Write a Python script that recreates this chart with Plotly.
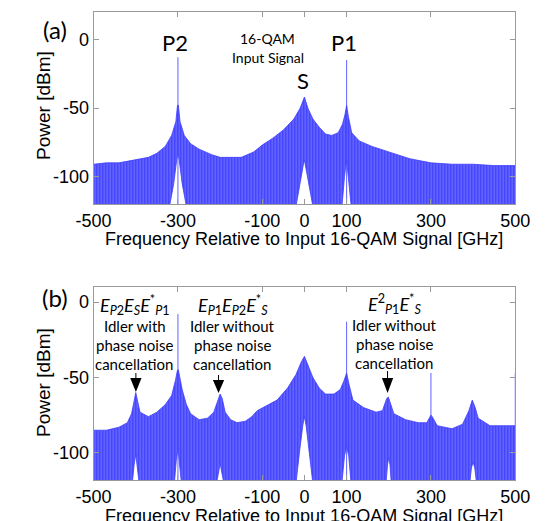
import plotly.graph_objects as go

# page offset: the browser body has an 8 px margin
OFF = 8
W, H = 550 - OFF, 521 - OFF

# ---------------- data ----------------
# Panel (a): upper envelope of the spectrum comb
fa_up = [-500, -470, -440, -400, -370, -350, -330, -315, -305, -301, -299, -295, -285, -270, -250,
         -220, -200, -180, -150, -120, -100, -75, -50, -25, -10, 0, 8, 20, 35, 50, 65, 80, 90, 96,
         100, 104, 112, 130, 160, 200, 250, 300, 350, 400, 450, 500]
pa_up = [-91, -90, -90, -88, -86, -83, -78, -70, -60, -48, -48, -60, -70, -76, -80,
         -84, -86, -86, -86, -82, -77, -72, -66, -58, -50, -42, -50, -58, -64, -69, -70, -68, -62, -55,
         -48, -56, -68, -74, -78, -82, -87, -90, -91, -91, -92, -92]
# Panel (a): lower envelope (white gaps under the carriers)
fa_lo = [-500, -322, -310, -303, -300, -297, -290, -278, -22, -10, -3, 0, 3, 10, 22,
         88, 95, 100, 105, 112, 500]
pa_lo = [-125, -125, -105, -88, -83, -88, -105, -125, -125, -105, -92, -88, -92, -105, -125,
         -125, -100, -88, -100, -125, -125]
# Panel (a): narrow carrier lines
fa_spk = [-300, 100]
pa_spk = [-13, -15]

# Panel (b): upper envelope
fb_up = [-500, -470, -440, -420, -410, -403, -400, -397, -390, -370, -350, -330, -315, -306, -301,
         -299, -294, -290, -280, -270, -250, -230, -215, -205, -200, -195, -188, -175, -160, -140,
         -125, -112, -100, -85, -65, -40, -20, -8, 0, 8, 20, 35, 50, 70, 85, 94, 100, 106, 115,
         140, 170, 185, 195, 199, 205, 212, 240, 270, 290, 297, 300, 303, 315, 350, 375, 390,
         398, 405, 412, 440, 470, 500]
pb_up = [-85, -85, -83, -80, -74, -64, -60, -64, -73, -76, -73, -68, -62, -52, -45,
         -45, -52, -58, -68, -74, -78, -77, -73, -64, -61, -64, -73, -78, -80, -79,
         -76, -72, -70, -68, -65, -57, -48, -40, -36, -42, -50, -57, -61, -61, -58, -52, -47, -55, -65,
         -70, -73, -72, -64, -63, -68, -74, -78, -80, -80, -76, -75, -76, -82, -84, -81, -72,
         -65, -70, -77, -82, -82, -82]
# Panel (b): lower envelope
fb_lo = [-500, -410, -404, -400, -396, -390, -310, -304, -300, -296, -290, -212, -203, -200, -196, -188,
         -22, -12, -4, 0, 4, 12, 22, 87, 95, 100, 105, 112, 192, 197, 200, 203, 207,
         390, 396, 400, 404, 410, 500]
pb_lo = [-125, -125, -108, -101, -108, -125, -125, -105, -97, -105, -125, -125, -112, -107, -112, -125,
         -125, -100, -82, -76, -82, -100, -125, -125, -102, -96, -102, -125, -125, -108, -103, -108, -125,
         -125, -110, -106, -110, -125, -125]
fb_spk = [-300, 100, 300, 500]
pb_spk = [-8, -13, -47, -47]

xticks = [-500, -300, -100, 0, 100, 300, 500]
xtick_text = ["-500", "-300", "-100", "0", "100", "300", "500"]
yticks = [0, -50, -100]
ytick_text = ["0", "-50", "-100"]

# ---------------- figure ----------------
BAND_BG = "rgb(70,70,255)"
BAND_FG = "rgb(160,160,255)"
SPIKE = "rgba(70,70,255,0.85)"


def band(f_up, p_up, f_lo, p_lo, xa, ya):
    xs = list(f_up) + list(reversed(f_lo))
    ys = list(p_up) + list(reversed(p_lo))
    return go.Scatter(x=xs, y=ys, mode="lines", fill="toself", line=dict(width=0.8, color="rgb(60,60,255)"),
                      fillcolor=BAND_BG,
                      fillpattern=dict(shape="|", size=3, solidity=0.35, fgcolor=BAND_FG, bgcolor=BAND_BG),
                      hoverinfo="skip", showlegend=False, xaxis=xa, yaxis=ya)


def spikes(fs, ps, xa, ya):
    xs, ys = [], []
    for f, p in zip(fs, ps):
        xs += [f, f, None]
        ys += [-125, p, None]
    return go.Scatter(x=xs, y=ys, mode="lines", line=dict(width=1, color=SPIKE),
                      hoverinfo="skip", showlegend=False, xaxis=xa, yaxis=ya)


fig = go.Figure()
fig.add_trace(band(fa_up, pa_up, fa_lo, pa_lo, "x", "y"))
fig.add_trace(spikes(fa_spk, pa_spk, "x", "y"))
fig.add_trace(band(fb_up, pb_up, fb_lo, pb_lo, "x2", "y2"))
fig.add_trace(spikes(fb_spk, pb_spk, "x2", "y2"))


def px(x):
    return (x - OFF) / W


def py(y):
    return 1 - (y - OFF) / H


L, R = 80, 529
TA, BA = 12, 204
TB, BB = 287, 480

TF = "Liberation Sans"
LF = "Lato"

axis_common = dict(showgrid=False, zeroline=False, showline=True, linecolor="#9a9a9a", linewidth=1,
                   mirror="ticks", ticks="inside", ticklen=5, tickcolor="#9a9a9a",
                   tickfont=dict(family=TF, size=18, color="black"))

fig.update_layout(
    width=W, height=H, margin=dict(l=0, r=0, t=0, b=0),
    paper_bgcolor="white", plot_bgcolor="white",
    xaxis=dict(domain=[px(L), px(R)], range=[-500, 500], tickvals=xticks, ticktext=xtick_text,
               anchor="y", **axis_common),
    yaxis=dict(domain=[py(BA), py(TA)], range=[-120, 20], tickvals=yticks, ticktext=ytick_text,
               anchor="x", **axis_common),
    xaxis2=dict(domain=[px(L), px(R)], range=[-500, 500], tickvals=xticks, ticktext=xtick_text,
                anchor="y2", **axis_common),
    yaxis2=dict(domain=[py(BB), py(TB)], range=[-118, 10], tickvals=yticks, ticktext=ytick_text,
                anchor="x2", **axis_common),
)

ann = []


def text(x, y, s, size, family=LF, **kw):
    ann.append(dict(x=px(x), y=py(y), xref="paper", yref="paper", text=s, showarrow=False,
                    xanchor="center", yanchor="middle", font=dict(family=family, size=size, color="black"), **kw))


# axis titles
text(304, 239, "Frequency Relative to Input 16-QAM Signal [GHz]", 18, TF)
text(304, 516, "Frequency Relative to Input 16-QAM Signal [GHz]", 18, TF)
text(26, 105, "Power [dBm]", 19, TF, textangle=-90)
text(26, 382, "Power [dBm]", 19, TF, textangle=-90)

# panel labels
text(39, 29, "(a)", 24)
text(39, 297, "(b)", 24)

# panel (a) labels
text(167, 43, "P2", 22)
text(347, 43, "P1", 22)
text(303, 80, "S", 22)
text(265, 38, "16-QAM", 14)
text(266, 57, "Input Signal", 14)

# panel (b) labels
EXP1 = "<i>E</i><sub><i>P</i>2</sub><i>E</i><sub><i>S</i></sub><i>E</i><sup>*</sup><sub><i>P</i>1</sub>"
EXP2 = "<i>E</i><sub><i>P</i>1</sub><i>E</i><sub><i>P</i>2</sub><i>E</i><sup>*</sup><sub><i>S</i></sub>"
EXP3 = "<i>E</i><sup>2</sup><sub><i>P</i>1</sub><i>E</i><sup>*</sup><sub><i>S</i></sub>"
groups = [(124, 305, EXP1, "Idler with"), (228, 305, EXP2, "Idler without"), (400, 304, EXP3, "Idler without")]
for cx, ey, e, l1 in groups:
    text(cx, ey, e, 18)
    text(cx, ey + 21, l1, 15)
    text(cx, ey + 40, "phase noise", 15)
    text(cx, ey + 59, "cancellation", 15)

fig.update_layout(annotations=ann)

# arrows (stem + triangle)
shapes = []
for cx, ytop, ytri, ytip in [(125, 373, 378, 392), (213, 375, 380, 393), (393, 371, 378, 393)]:
    shapes.append(dict(type="line", xref="paper", yref="paper", x0=px(cx), x1=px(cx), y0=py(ytop), y1=py(ytri),
                       line=dict(color="black", width=1)))
    shapes.append(dict(type="path", xref="paper", yref="paper",
                       path=f"M {px(cx-6)},{py(ytri)} L {px(cx+6)},{py(ytri)} L {px(cx)},{py(ytip)} Z",
                       fillcolor="black", line=dict(color="black", width=0)))
fig.update_layout(shapes=shapes)

fig.write_html("out.html")
